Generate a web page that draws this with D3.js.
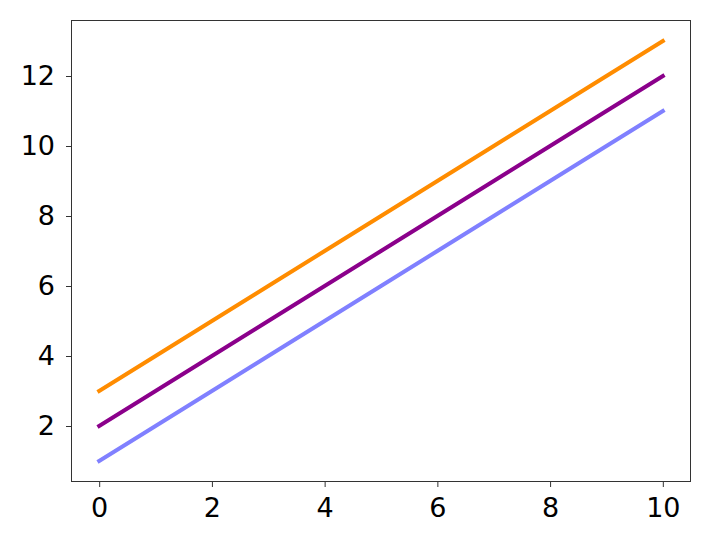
<!DOCTYPE html>
<html><head><meta charset="utf-8">
<script src="https://cdn.jsdelivr.net/npm/d3@7"></script>
<style>body{margin:0;background:#fff}svg{display:block}</style>
</head><body>
<script>
const xValues = [0,1,2,3,4,5,6,7,8,9,10];
const seriesBlue = [1,2,3,4,5,6,7,8,9,10,11];
const seriesPurple = [2,3,4,5,6,7,8,9,10,11,12];
const seriesOrange = [3,4,5,6,7,8,9,10,11,12,13];
const seriesColors = ["#8080ff","#8b008b","#ff8c00"];
const xTicks = [0,2,4,6,8,10];
const yTicks = [2,4,6,8,10,12];

const W=710,H=545;
const m={left:71,right:691,top:20,bottom:482};
const svg=d3.select("body").append("svg").attr("width",W).attr("height",H);
const x=d3.scaleLinear().domain([-0.5,10.5]).range([m.left,m.right]);
const y=d3.scaleLinear().domain([0.4,13.6]).range([m.bottom,m.top]);

const line=d3.line().x((d,i)=>x(xValues[i])).y(d=>y(d));
[seriesBlue,seriesPurple,seriesOrange].forEach((s,i)=>{
  svg.append("path").datum(s).attr("d",line).attr("fill","none")
    .attr("stroke",seriesColors[i]).attr("stroke-width",4).attr("stroke-linecap","square");
});

svg.append("rect").attr("x",m.left+0.5).attr("y",m.top+0.5)
  .attr("width",m.right-m.left-1).attr("height",m.bottom-m.top-1)
  .attr("fill","none").attr("stroke","#333").attr("stroke-width",1);

const xa=svg.append("g").attr("transform",`translate(0,${m.bottom})`)
  .call(d3.axisBottom(x).tickValues(xTicks).tickSize(5).tickPadding(11).tickFormat(d3.format("d")));
const ya=svg.append("g").attr("transform",`translate(${m.left},0)`)
  .call(d3.axisLeft(y).tickValues(yTicks).tickSize(5).tickPadding(11).tickFormat(d3.format("d")));
[xa,ya].forEach(a=>{
  a.select(".domain").remove();
  a.selectAll("line").attr("stroke","#333");
  a.selectAll("text").attr("font-family","DejaVu Sans").attr("font-size",27).attr("fill","#000");
});
</script>
</body></html>
